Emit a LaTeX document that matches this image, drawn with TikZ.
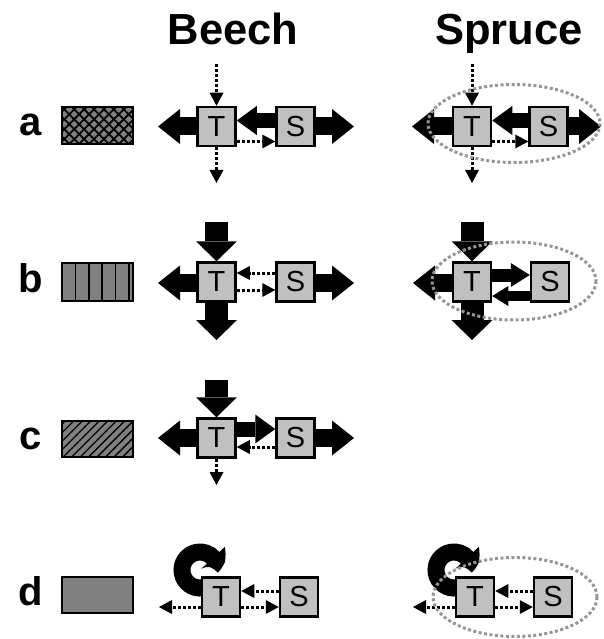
\documentclass[tikz,border=0pt]{standalone}
\usepackage{fontspec}
\setmainfont{Liberation Sans}
\usetikzlibrary{arrows.meta,bending,calc,patterns.meta}
\pgfdeclarelayer{bg}
\pgfsetlayers{bg,main}
\definecolor{boxgray}{RGB}{192,192,192}
\definecolor{legendgray}{RGB}{128,128,128}
\definecolor{ringgray}{RGB}{150,150,150}
\tikzset{
  pool/.style={draw=black, line width=2.5pt, fill=boxgray, minimum width=38pt,
    minimum height=39pt, inner sep=0pt, font=\fontsize{29}{29}\selectfont},
  flux/.style={line width=18pt, -{Triangle[width=35pt,length=22pt,line width=0pt]}},
  fluxv/.style={line width=23pt, -{Triangle[width=41pt,length=20pt,line width=0pt]}},
  fluxm/.style={line width=15pt, -{Triangle[width=29pt,length=20pt,line width=0pt]}},
  fluxs/.style={line width=13pt, -{Triangle[width=24pt,length=19pt,line width=0pt]}},
  fluxt/.style={line width=10pt, -{Triangle[width=20pt,length=16pt,line width=0pt]}},
  trace/.style={line width=3pt, dash pattern=on 3pt off 2pt,
    -{Triangle[width=14pt,length=13pt,line width=0pt]}},
  hull/.style={draw=ringgray, line width=3pt, dash pattern=on 3pt off 2.5pt},
  legend/.style={draw=black, line width=2pt},
  curl/.style={line width=17pt, -{Triangle[width=32pt,length=16pt,line width=0pt,bend]}},
  title/.style={font=\fontsize{43.5}{44}\selectfont\bfseries, anchor=base},
  rowlabel/.style={font=\fontsize{40}{40}\selectfont\bfseries, anchor=base},
}
\begin{document}
\begin{tikzpicture}[x=1pt,y=-1pt]
\useasboundingbox (0,0) rectangle (603,639);

% column titles
\node[title] (beech) at (233,45) {Beech};
\node[title] (spruce) at (509,45) {Spruce};

% row labels
\node[rowlabel] (la) at (31,136) {a};
\node[rowlabel] (lb) at (31,292.5) {b};
\node[rowlabel] (lc) at (31,449.5) {c};
\node[rowlabel] (ld) at (31,605.5) {d};

% legend swatches
\fill[legendgray] (62,107) rectangle (133,144);
\path[pattern={Lines[angle=45,distance=7pt,line width=1.8pt]}, pattern color=black] (62,107) rectangle (133,144);
\path[pattern={Lines[angle=-45,distance=7pt,line width=1.8pt]}, pattern color=black] (62,107) rectangle (133,144);
\draw[legend] (62,107) rectangle (133,144);

\fill[legendgray] (62,263) rectangle (133,301);
\foreach \x in {75.3,88.7,102,115.3,128.7}
  \draw[line width=1.6pt] (\x,263) -- (\x,301);
\draw[legend] (62,263) rectangle (133,301);

\fill[legendgray] (62,421) rectangle (133,457);
\path[pattern={Lines[angle=45,distance=6pt,line width=1.3pt]}, pattern color=black] (62,421) rectangle (133,457);
\draw[legend] (62,421) rectangle (133,457);

\draw[legend, fill=legendgray] (62,577) rectangle (133,613);

% pools
\node[pool] (Ta) at (216.5,126.5) {T};
\node[pool] (Sa) at (295.5,126.5) {S};
\node[pool] (Tb) at (216.5,282) {T};
\node[pool] (Sb) at (295.5,282) {S};
\node[pool] (Tc) at (216.5,438) {T};
\node[pool] (Sc) at (295.5,438) {S};
\node[pool] (Td) at (221,597) {T};
\node[pool] (Sd) at (299,597) {S};

\node[pool] (Ua) at (472,126.5) {T};
\node[pool] (Va) at (548.5,126.5) {S};
\node[pool] (Ub) at (472,282) {T};
\node[pool] (Vb) at (550,282) {S};
\node[pool] (Ud) at (475,597) {T};
\node[pool] (Vd) at (553,597) {S};

% free ends of the fluxes
\coordinate (Ia) at (216.5,64);
\coordinate (Oa) at (216.5,183);
\coordinate (La) at (158,126.5);
\coordinate (Ra) at (354,126.5);
\coordinate (Ib) at (216.5,222);
\coordinate (Ob) at (216.5,340);
\coordinate (Lb) at (158,283);
\coordinate (Rb) at (354,283);
\coordinate (Ic) at (216.5,380);
\coordinate (Oc) at (216.5,485);
\coordinate (Lc) at (158,438);
\coordinate (Rc) at (354,438);
\coordinate (Ld) at (159,607);
\coordinate (Cd) at (200,570);

\coordinate (Ja) at (472,64);
\coordinate (Pa) at (472,183);
\coordinate (Ma) at (412,126.5);
\coordinate (Qa) at (601,126.5);
\coordinate (Jb) at (472,222);
\coordinate (Pb) at (472,340);
\coordinate (Mb) at (413,283);
\coordinate (Md) at (413,607);
\coordinate (Dd) at (454,570);

\begin{pgfonlayer}{bg}
% Beech a
\draw[trace] (Ia) -- (Ta.north);
\draw[trace] (Ta.south) -- (Oa);
\draw[flux] (Ta.west) -- (La);
\draw[flux] (Sa.east) -- (Ra);
\draw[fluxm] ($(Sa.west)+(0,-6)$) -- ($(Ta.east)+(0,-6)$);
\draw[trace] ($(Ta.east)+(0,15)$) -- ($(Sa.west)+(0,15)$);
% Beech b
\draw[fluxv] (Ib) -- (Tb.north);
\draw[fluxv] (Tb.south) -- (Ob);
\draw[flux] ($(Tb.west)+(0,1)$) -- (Lb);
\draw[flux] ($(Sb.east)+(0,1)$) -- (Rb);
\draw[trace] ($(Sb.west)+(0,-9)$) -- ($(Tb.east)+(0,-9)$);
\draw[trace] ($(Tb.east)+(0,8)$) -- ($(Sb.west)+(0,8)$);
% Beech c
\draw[fluxv] (Ic) -- (Tc.north);
\draw[trace] (Tc.south) -- (Oc);
\draw[flux] (Tc.west) -- (Lc);
\draw[flux] (Sc.east) -- (Rc);
\draw[fluxm] ($(Tc.east)+(0,-9)$) -- ($(Sc.west)+(0,-9)$);
\draw[trace] ($(Sc.west)+(0,9)$) -- ($(Tc.east)+(0,9)$);
% Beech d
\draw[curl] ($(Cd)+(80:18)$) arc[start angle=80, end angle=368, radius=18];
\draw[trace] ($(Sd.west)+(0,-6)$) -- ($(Td.east)+(0,-6)$);
\draw[trace] ($(Td.east)+(0,10)$) -- ($(Sd.west)+(0,10)$);
\draw[trace] ($(Td.west)+(0,10)$) -- (Ld);

% Spruce a
\draw[trace] (Ja) -- (Ua.north);
\draw[trace] (Ua.south) -- (Pa);
\draw[flux] (Ua.west) -- (Ma);
\draw[flux] (Va.east) -- (Qa);
\draw[fluxm] ($(Va.west)+(0,-6)$) -- ($(Ua.east)+(0,-6)$);
\draw[trace] ($(Ua.east)+(0,15)$) -- ($(Va.west)+(0,15)$);
% Spruce b
\draw[fluxv] (Jb) -- (Ub.north);
\draw[fluxv] (Ub.south) -- (Pb);
\draw[flux] ($(Ub.west)+(0,1)$) -- (Mb);
\draw[fluxs] ($(Ub.east)+(0,-7)$) -- ($(Vb.west)+(0,-7)$);
\draw[fluxt] ($(Vb.west)+(0,14)$) -- ($(Ub.east)+(0,14)$);
% Spruce d
\draw[curl] ($(Dd)+(80:18)$) arc[start angle=80, end angle=368, radius=18];
\draw[trace] ($(Vd.west)+(0,-6)$) -- ($(Ud.east)+(0,-6)$);
\draw[trace] ($(Ud.east)+(0,10)$) -- ($(Vd.west)+(0,10)$);
\draw[trace] ($(Ud.west)+(0,10)$) -- (Md);
\end{pgfonlayer}

% spruce pools grouped together
\draw[hull] (514,123.5) ellipse[x radius=86, y radius=39];
\draw[hull] (514,281) ellipse[x radius=82, y radius=39];
\draw[hull] (515,597) ellipse[x radius=82, y radius=39.5];
\end{tikzpicture}
\end{document}
